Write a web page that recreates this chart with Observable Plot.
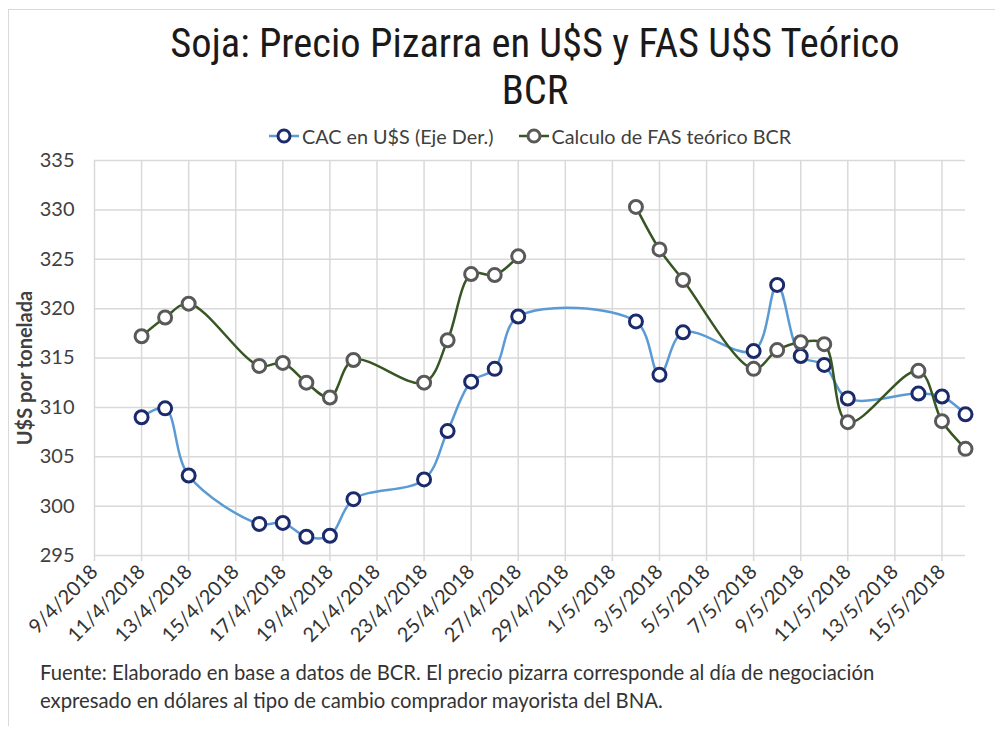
<!DOCTYPE html>
<html>
<head>
<meta charset="utf-8">
<script src="https://cdn.jsdelivr.net/npm/d3@7"></script>
<script src="https://cdn.jsdelivr.net/npm/@observablehq/plot@0.6"></script>
<style>
  html, body { margin: 0; padding: 0; background: #fff; }
  #page { position: relative; width: 995px; height: 729px; overflow: hidden; background: #fff; }
  #frame { position: absolute; left: 8px; top: 9px; width: 1000px; height: 716px;
           border-left: 1.5px solid #d9d9d9; border-top: 1.5px solid #d9d9d9; }
  #title { position: absolute; left: 535px; top: 20px; transform: translateX(-50%);
           font-family: "Liberation Sans Narrow", "Roboto Condensed", Roboto, sans-serif;
           font-size: 40.5px; line-height: 47px; text-align: center; color: #1a1a1a; white-space: nowrap; }
  #legend { position: absolute; left: 268px; top: 124px; font-family: Lato, sans-serif; font-size: 19.8px;
            color: #404040; white-space: nowrap; display: flex; align-items: center; }
  #legend .item { display: flex; align-items: center; margin-right: 24px; }
  #legend svg { margin-right: 2px; }
  #chart { position: absolute; left: 0; top: 140px; }
  #footer { position: absolute; left: 40px; top: 658px; font-family: Lato, sans-serif; font-size: 20.3px;
            line-height: 28px; color: #333; white-space: nowrap; }
</style>
</head>
<body>
<div id="page">
  <div id="frame"></div>
  <div id="title"></div>
  <div id="legend"></div>
  <div id="chart"></div>
  <div id="footer"></div>
</div>
<script>
// ---- data ----
const titleLines = ["Soja: Precio Pizarra en U$S y FAS U$S Teórico", "BCR"];
const seriesNames = ["CAC en U$S (Eje Der.)", "Calculo de FAS teórico BCR"];
const yLabel = "U$S por tonelada";
const footerLines = [
  "Fuente: Elaborado en base a datos de BCR. El precio pizarra corresponde al día de negociación",
  "expresado en dólares al tipo de cambio comprador mayorista del BNA."
];

const dates = ["2018-04-11","2018-04-12","2018-04-13","2018-04-16","2018-04-17","2018-04-18","2018-04-19",
  "2018-04-20","2018-04-23","2018-04-24","2018-04-25","2018-04-26","2018-04-27","2018-05-02","2018-05-03",
  "2018-05-04","2018-05-07","2018-05-08","2018-05-09","2018-05-10","2018-05-11","2018-05-14","2018-05-15","2018-05-16"];
const cac = [309.0, 309.9, 303.1, 298.2, 298.3, 296.9, 297.0, 300.7, 302.7, 307.6, 312.6, 313.9, 319.2,
  318.7, 313.3, 317.6, 315.7, 322.4, 315.2, 314.3, 310.9, 311.4, 311.1, 309.3];
const fas = [317.2, 319.1, 320.5, 314.2, 314.5, 312.5, 311.0, 314.8, 312.5, 316.8, 323.5, 323.4, 325.3,
  330.3, 326.0, 322.9, 313.9, 315.8, 316.6, 316.4, 308.5, 313.7, 308.6, 305.8];
// FAS line is broken between 27/4 and 2/5 (no value on 30/4)
const fasGapDate = "2018-04-30";

const xDomain = ["2018-04-09", "2018-05-16"];
const xTicks = ["2018-04-09","2018-04-11","2018-04-13","2018-04-15","2018-04-17","2018-04-19","2018-04-21",
  "2018-04-23","2018-04-25","2018-04-27","2018-04-29","2018-05-01","2018-05-03","2018-05-05","2018-05-07",
  "2018-05-09","2018-05-11","2018-05-13","2018-05-15"];
const yTicks = [295, 300, 305, 310, 315, 320, 325, 330, 335];

// ---- styles ----
const cacLine = "#5b9bd5", cacMarker = "#1b2a6b";
const fasLine = "#375623", fasMarker = "#595959";

// ---- build tables ----
const parse = d3.utcParse("%Y-%m-%d");
const cacData = dates.map((d, i) => ({date: parse(d), value: cac[i]}));
const fasData = dates.map((d, i) => ({date: parse(d), value: fas[i]}));
const gapIndex = fasData.findIndex(d => d.date > parse(fasGapDate));
const fasLineData = [...fasData.slice(0, gapIndex), {date: parse(fasGapDate), value: null}, ...fasData.slice(gapIndex)];
const tickDates = xTicks.map(parse);
const fmt = d3.utcFormat("%-d/%-m/%Y");

// ---- title / legend / footer ----
document.getElementById("title").innerHTML = titleLines.map(t => `<div>${t}</div>`).join("");
const legend = document.getElementById("legend");
[[seriesNames[0], cacLine, cacMarker], [seriesNames[1], fasLine, fasMarker]].forEach(([name, lc, mc]) => {
  const item = document.createElement("div");
  item.className = "item";
  item.innerHTML = `<svg width="32" height="20"><line x1="1" x2="31" y1="10" y2="10" stroke="${lc}" stroke-width="2.5"/>` +
    `<circle cx="16" cy="10" r="6" fill="white" stroke="${mc}" stroke-width="3"/></svg><span>${name}</span>`;
  legend.appendChild(item);
});
document.getElementById("footer").innerHTML = footerLines.map(t => `<div>${t}</div>`).join("");

// ---- chart ----
const chart = Plot.plot({
  width: 995,
  height: 515,
  marginTop: 20,
  marginBottom: 100,
  marginLeft: 94,
  marginRight: 30,
  style: {fontFamily: "Lato, sans-serif", background: "transparent", color: "#404040"},
  x: {type: "utc", domain: xDomain.map(parse)},
  y: {domain: [295, 335]},
  marks: [
    Plot.gridY(yTicks, {stroke: "#d9d9d9", strokeOpacity: 1, strokeWidth: 1.5}),
    Plot.gridX(tickDates, {stroke: "#d9d9d9", strokeOpacity: 1, strokeWidth: 1.5}),
    Plot.axisX(tickDates, {tickSize: 6, stroke: "#d9d9d9", strokeWidth: 1.5, tickRotate: -45, tickPadding: 7,
      tickFormat: fmt, fontSize: 20, fill: "#333", label: null}),
    Plot.axisY(yTicks, {tickSize: 0, tickPadding: 20, fontSize: 20, fill: "#404040", label: null}),
    Plot.text([yLabel], {frameAnchor: "left", textAnchor: "middle", lineAnchor: "middle", dx: -69, dy: 10,
      rotate: -90, text: d => d, fontSize: 20, fontWeight: 700, fill: "#404040"}),
    Plot.line(cacData, {x: "date", y: "value", stroke: cacLine, strokeWidth: 2.5, curve: "catmull-rom"}),
    Plot.dot(cacData, {x: "date", y: "value", r: 6.5, fill: "white", stroke: cacMarker, strokeWidth: 3}),
    Plot.line(fasLineData, {x: "date", y: "value", stroke: fasLine, strokeWidth: 2.5, curve: "catmull-rom"}),
    Plot.dot(fasData, {x: "date", y: "value", r: 6.5, fill: "white", stroke: fasMarker, strokeWidth: 3})
  ]
});
document.getElementById("chart").appendChild(chart);
</script>
</body>
</html>
